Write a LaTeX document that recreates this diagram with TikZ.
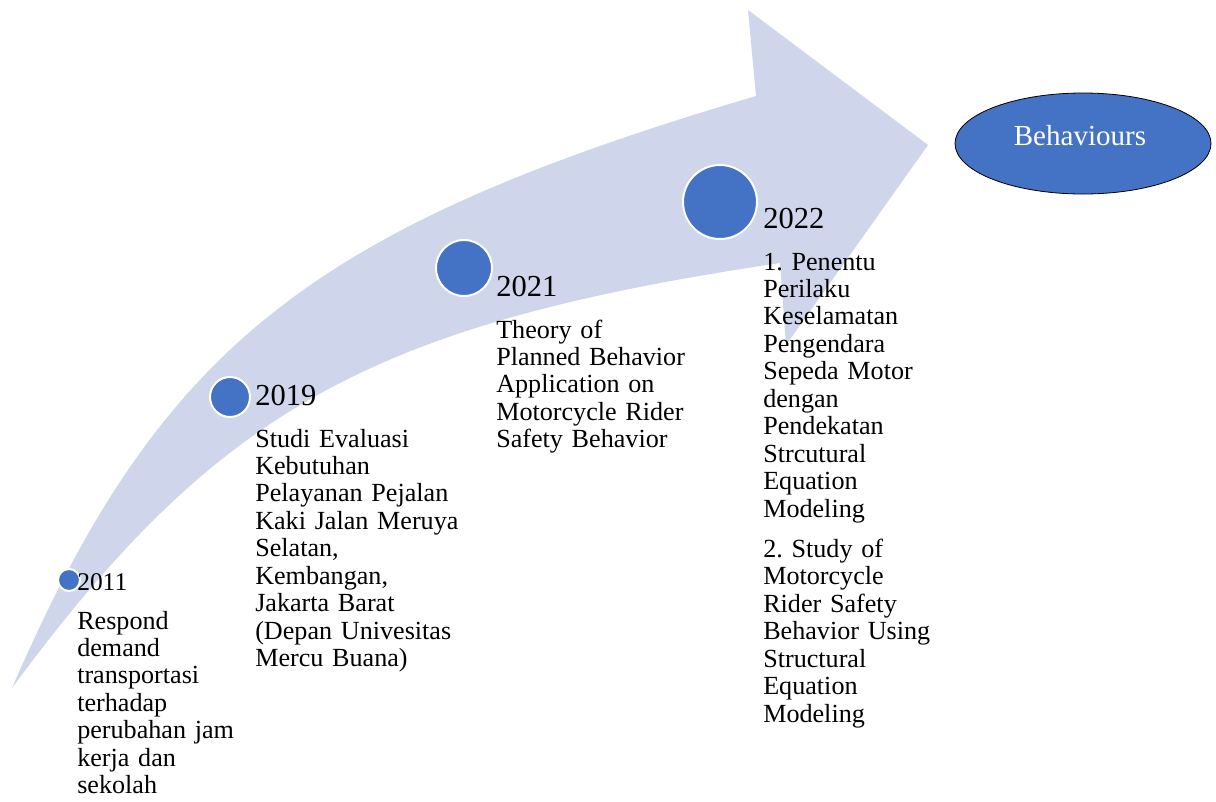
\documentclass[tikz,border=0pt]{standalone}
\usepackage{fontspec}
\setmainfont{Liberation Serif}
\usetikzlibrary{shapes.geometric}
\definecolor{bandblue}{HTML}{CFD5EA}
\definecolor{dotblue}{HTML}{4472C4}
\frenchspacing

\begin{document}
\begin{tikzpicture}[x=0.75pt,y=-0.75pt,
  yeardot/.style={circle,fill=dotblue,draw=white,line width=1.5pt,inner sep=0pt},
  year/.style={anchor=base west,inner sep=0pt,font=\fontsize{22.9}{27}\selectfont},
  txt/.style={anchor=base west,inner sep=0pt,text width=180pt,align=left,
    font=\fontsize{19.6}{20.6}\selectfont}]
  \useasboundingbox (0,0) rectangle (1216,801);
  % the curved band with its head
  \fill[bandblue] (12,688) .. controls (160,347) and (309,228) .. (756,96)
    -- (748,10) -- (928,145) -- (786,345) -- (780,263)
    .. controls (370,324) and (217,410) .. (12,688) -- cycle;
  % milestones
  \node[yeardot,minimum size=16.5pt] (d2011) at (69,580) {};
  \node[yeardot,minimum size=30pt] (d2019) at (230,397) {};
  \node[yeardot,minimum size=42pt] (d2021) at (464,268) {};
  \node[yeardot,minimum size=55.5pt] (d2022) at (720,202) {};
  \node[year,font=\fontsize{19.1}{23}\selectfont] (y2011) at (77,590) {2011};
  \node[year] (y2019) at (255,405) {2019};
  \node[year] (y2021) at (496,296) {2021};
  \node[year] (y2022) at (763,228) {2022};
  \node[txt] (t2011) at (77,629) {Respond\\ demand\\ transportasi\\ terhadap\\
    perubahan jam\\ kerja dan\\ sekolah};
  \node[txt] (t2019) at (255,447) {Studi Evaluasi\\ Kebutuhan\\ Pelayanan Pejalan\\
    Kaki Jalan Meruya\\ Selatan,\\ Kembangan,\\ Jakarta Barat\\
    (Depan Univesitas\\ Mercu Buana)};
  \node[txt] (t2021) at (496,338) {Theory of\\ Planned Behavior\\ Application on\\
    Motorcycle Rider\\ Safety Behavior};
  \node[txt] (t2022) at (763,270) {1. Penentu\\ Perilaku\\ Keselamatan\\ Pengendara\\
    Sepeda Motor\\ dengan\\ Pendekatan\\ Strcutural\\ Equation\\ Modeling\\[9.4pt]
    2. Study of\\ Motorcycle\\ Rider Safety\\ Behavior Using\\ Structural\\
    Equation\\ Modeling};
  % outcome
  \node[ellipse,draw=black,line width=0.6pt,fill=dotblue,minimum width=192pt,
    minimum height=75.75pt,inner sep=0pt] (goal) at (1083,143.5) {};
  \node[anchor=base,inner sep=0pt,text=white,font=\fontsize{21.8}{26}\selectfont]
    (goaltext) at (1080,145) {Behaviours};
\end{tikzpicture}
\end{document}
